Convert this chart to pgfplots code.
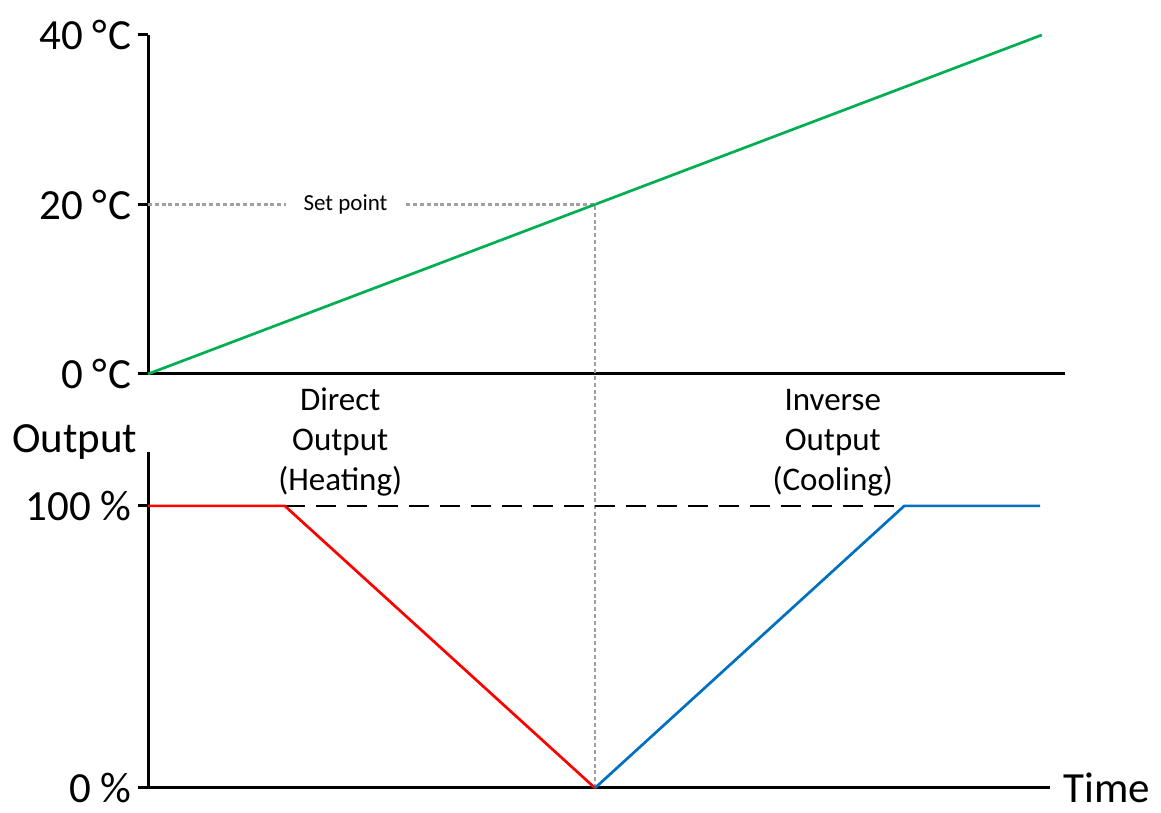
\documentclass[border=0pt]{standalone}
\usepackage{pgfplots}
\pgfplotsset{compat=1.18}
\usepackage{fontspec}
\setmainfont{Carlito}

\definecolor{tgreen}{RGB}{0,176,80}
\definecolor{hred}{RGB}{255,0,0}
\definecolor{cblue}{RGB}{0,112,192}
\definecolor{spgray}{RGB}{160,160,160}

\newcommand{\degC}{°\kern0.6pt C}

\pgfplotsset{
  ctrl/.style={
    scale only axis,
    axis lines=left,
    axis line style={-, line width=1.5pt},
    clip=false,
    xtick=\empty,
    tick align=outside,
    major tick length=5pt,
    tick style={line width=1.5pt, black},
    yticklabel style={font=\fontsize{21.5}{24}\selectfont, inner sep=0pt, xshift=-3pt},
  },
}

\begin{document}
\begin{tikzpicture}
\useasboundingbox (0,0) rectangle (580.5pt,406.5pt);

% temperature ramp
\begin{axis}[ctrl,
  at={(74pt,219.5pt)}, anchor=south west,
  width=458.5pt, height=169.5pt,
  xmin=0, xmax=102.6, ymin=0, ymax=40,
  ytick={0,20,40}, yticklabels={0 \degC,20 \degC,40 \degC},
]
\addplot[spgray, line width=1.1pt, dash pattern=on 2pt off 1.4pt] coordinates {(0,20) (50,20)};
\node[fill=white, inner ysep=2pt, inner xsep=9pt, font=\fontsize{11.5}{13}\selectfont] at (axis cs:22.1,20) {Set point};
\addplot[tgreen, line width=1.35pt] coordinates {(0,0) (100,40)};
\end{axis}

% controller output
\begin{axis}[ctrl,
  at={(74pt,12.5pt)}, anchor=south west,
  width=451pt, height=168pt,
  xmin=0, xmax=100.9, ymin=0, ymax=119.1,
  ytick={0,100}, yticklabels={0 \%,100 \%},
]
\addplot[spgray, line width=1.1pt, dash pattern=on 2pt off 1.4pt] coordinates {(50,0) (50,207.4)};
\addplot[black, line width=1.1pt, dash pattern=on 10pt off 5.5pt] coordinates {(15.3,100) (84.6,100)};
\addplot[hred, line width=1.35pt] coordinates {(0,100) (15.3,100) (50,0)};
\addplot[cblue, line width=1.35pt] coordinates {(50,0) (84.6,100) (99.8,100)};
\node[align=center, font=\fontsize{16.5}{20}\selectfont] at (axis cs:21.5,122.5) {Direct\\Output\\(Heating)};
\node[align=center, font=\fontsize{16.5}{20}\selectfont] at (axis cs:76.6,122.5) {Inverse\\Output\\(Cooling)};
\end{axis}

\node[anchor=base west, inner sep=0pt, font=\fontsize{21.5}{24}\selectfont] at (6pt,180pt) {Output};
\node[anchor=west, inner sep=0pt, font=\fontsize{21.5}{24}\selectfont] at (531.5pt,12.5pt) {Time};
\end{tikzpicture}
\end{document}
